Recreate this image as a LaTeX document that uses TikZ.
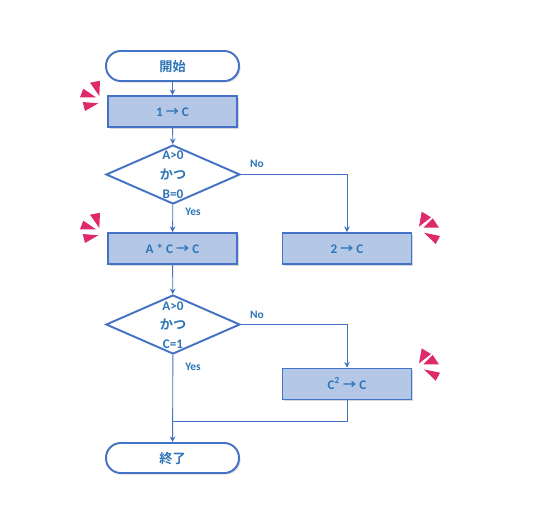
\documentclass[tikz,border=0pt]{standalone}
\usepackage{fontspec}
\setmainfont{Carlito}
\newfontfamily\cjk{Noto Sans CJK JP}[BoldFont={Noto Sans CJK JP Bold}]
\usetikzlibrary{arrows.meta, positioning, shapes.geometric, shadows}
\definecolor{darkblue}{RGB}{68,114,196}
\definecolor{lightblue}{RGB}{180,199,231}
\definecolor{textblue}{RGB}{46,117,182}
\definecolor{burstpink}{RGB}{222,42,107}
\tikzset{
  softshadow/.style={drop shadow={shadow xshift=1.5,shadow yshift=1.5,opacity=0.22,fill=black!70}},
  boxtext/.style={font=\bfseries\fontsize{7.5}{9}\selectfont, text=textblue},
  terminal/.style={boxtext, draw=darkblue, line width=1.1pt, fill=white, rounded corners=8.4pt,
    minimum width=133*0.02cm, minimum height=30*0.02cm, text height=7pt, text depth=1pt, softshadow},
  procbox/.style={boxtext, draw=darkblue, line width=1.1pt, fill=lightblue,
    minimum width=129*0.02cm, minimum height=31*0.02cm, text height=7pt, text depth=1pt, softshadow},
  decision/.style={diamond, draw=darkblue, line width=1.1pt, fill=white, inner sep=0pt,
    minimum width=134*0.02cm, minimum height=59*0.02cm, aspect=2.27},
  smalltext/.style={font=\bfseries\fontsize{6.5}{8}\selectfont, text=textblue},
  flow/.style={draw=darkblue, line width=0.5pt, -{Stealth[length=3.2pt,width=3.2pt]}},
  plainflow/.style={draw=darkblue, line width=0.5pt},
  burstleft/.pic={
    \fill[burstpink] (90,82.7) -- (100,80.7) -- (99.3,96) -- cycle;
    \fill[burstpink] (83.3,88.7) -- (80,97.3) -- (96,97.3) -- cycle;
    \fill[burstpink] (82.7,102) -- (98.3,103.3) -- (85,111) -- cycle;
  },
  burstright/.pic={
    \fill[burstpink] (421.7,211.7) -- (431,217.3) -- (419,226.7) -- cycle;
    \fill[burstpink] (432.7,218.3) -- (439,227.7) -- (423.3,227.7) -- cycle;
    \fill[burstpink] (424,232.7) -- (440,236) -- (435.7,244) -- cycle;
  }
}
\begin{document}
\begin{tikzpicture}[x=0.02cm, y=-0.02cm]
  \useasboundingbox (0,0) rectangle (543,527);
  % blocks
  \node[terminal] (start) at (172.5,66) {\cjk 開始};
  \node[procbox] (init) at (172.5,111.5) {1 {\cjk →} C};
  \node[decision] (ifone) at (173,174.5) {};
  \node[procbox] (mult) at (172.5,248.5) {A * C {\cjk →} C};
  \node[procbox] (settwo) at (347,248.5) {2 {\cjk →} C};
  \node[decision] (iftwo) at (173,324.5) {};
  \node[procbox] (square) at (347,384) {C\textsuperscript{2} {\cjk →} C};
  \node[terminal] (finish) at (172.5,458) {\cjk 終了};
  % diamond texts
  \node[boxtext, inner sep=0pt] (ifonea) at (173,155.7) {A>0};
  \node[boxtext, inner sep=0pt] (ifoneb) at (173,174.5) {\cjk かつ};
  \node[boxtext, inner sep=0pt] (ifonec) at (173,194.3) {B=0};
  \node[boxtext, inner sep=0pt] (iftwoa) at (173,306) {A>0};
  \node[boxtext, inner sep=0pt] (iftwob) at (173,324.5) {\cjk かつ};
  \node[boxtext, inner sep=0pt] (iftwoc) at (173,344.5) {C=1};
  % connectors
  \coordinate (merge) at (finish.north |- 0,421);
  \draw[flow] (start) -- (init);
  \draw[flow] (init) -- (ifone);
  \draw[flow] (ifone) -- (mult);
  \draw[flow] (ifone.east) -| (settwo.north);
  \draw[flow] (mult) -- (iftwo);
  \draw[flow] (iftwo.east) -| (square.north);
  \draw[flow] (iftwo) -- (finish);
  \draw[plainflow] (square.south) |- (merge);
  % labels
  \node[smalltext] (yesone) at (193,212) {Yes};
  \node[smalltext] (noone) at (257,164) {No};
  \node[smalltext] (yestwo) at (193,367) {Yes};
  \node[smalltext] (notwo) at (257,315) {No};
  % bursts
  \pic at (0,0) {burstleft};
  \pic at (0,132) {burstleft};
  \pic at (0,0) {burstright};
  \pic at (0,136.7) {burstright};
\end{tikzpicture}
\end{document}
